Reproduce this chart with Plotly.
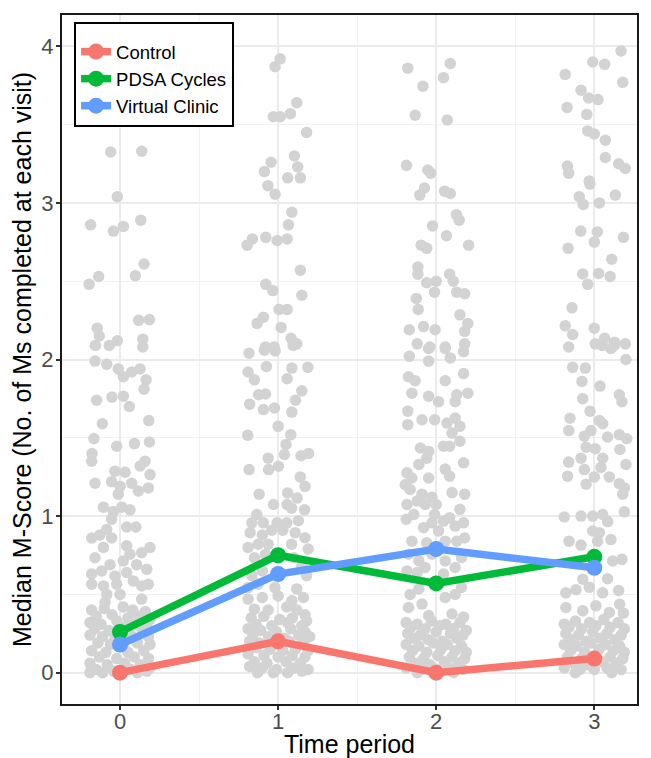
import plotly.graph_objects as go

# ---------------- data ----------------
periods = [0, 1, 2, 3]
series_names = ["Control", "PDSA Cycles", "Virtual Clinic"]
control_median = [0.0, 0.20, 0.0, 0.09]
pdsa_median = [0.26, 0.75, 0.57, 0.74]
virtual_median = [0.18, 0.63, 0.79, 0.67]
series_colors = ["#F8766D", "#00BA38", "#619CFF"]

# individual (jittered) scores, period 0
p0_jitter = [-0.059, 0.137, -0.017, -0.186, -0.042, 0.021, 0.131, 0.152, 0.097, -0.135, -0.196, -0.144,
             0.118, 0.186, -0.131, -0.156, -0.068, -0.017, 0.144, 0.144, -0.158, -0.084, -0.011, 0.021,
             0.074, 0.127, 0.165, 0.152, -0.148, -0.051, 0.021, 0.059, -0.112, 0.182, -0.165, -0.021,
             0.091, 0.186, -0.177, -0.179, 0.158, 0.127, -0.032, 0.032, 0.19, -0.158, -0.053, 0.0,
             0.074, 0.116, 0.179, -0.011, -0.105, -0.042, 0.011, 0.063, -0.053, 0.042, 0.10, -0.084,
             -0.179, -0.127, -0.053, -0.105, 0.042, 0.19, 0.137, 0.063, -0.158, -0.063, 0.021, 0.105,
             0.169, -0.179, -0.116, -0.032, 0.042, -0.179, -0.105, -0.021, 0.084, 0.137, 0.179, -0.084,
             0.0, 0.137, -0.095,
             -0.18, -0.10, 0.02, 0.08, 0.16, -0.15, -0.05, 0.05, 0.12, 0.19, -0.19, -0.12, -0.02, 0.10,
             0.17, -0.16, -0.07, 0.03, 0.14, -0.19, -0.11, -0.03, 0.07, 0.18, -0.14, -0.06, 0.02, 0.11,
             0.19, -0.18, -0.09, 0.05, 0.15, -0.13, -0.02, 0.09, 0.18, -0.19, -0.08, 0.03, 0.13, -0.15,
             -0.04, 0.07, 0.17, -0.11, 0.0, 0.11, -0.19, 0.19]
p0_score = [3.325, 3.33, 3.04, 2.86, 2.82, 2.85, 2.89, 2.61, 2.535, 2.53, 2.48, 2.20,
            2.25, 2.255, 2.15, 2.09, 2.09, 2.12, 2.13, 2.08, 1.99, 1.97, 1.94, 1.89,
            1.92, 1.94, 1.87, 1.81, 1.74, 1.76, 1.765, 1.70, 1.59, 1.61, 1.495, 1.446,
            1.463, 1.473, 1.40, 1.35, 1.35, 1.32, 1.287, 1.28, 1.265, 1.21, 1.22, 1.19,
            1.21, 1.16, 1.18, 1.14, 1.057, 1.03, 1.057, 1.04, 0.98, 0.93, 0.93, 0.915,
            0.86, 0.88, 0.86, 0.80, 0.81, 0.80, 0.766, 0.756, 0.734, 0.69, 0.713, 0.69,
            0.66, 0.63, 0.65, 0.618, 0.64, 0.565, 0.554, 0.565, 0.586, 0.554, 0.565, 0.50,
            0.50, 0.47, 0.448,
            0.40, 0.41, 0.42, 0.40, 0.39, 0.36, 0.37, 0.35, 0.36, 0.34, 0.32, 0.31, 0.33, 0.31,
            0.30, 0.28, 0.27, 0.29, 0.27, 0.24, 0.23, 0.22, 0.24, 0.23, 0.19, 0.18, 0.17, 0.19,
            0.18, 0.14, 0.13, 0.13, 0.14, 0.10, 0.09, 0.10, 0.09, 0.06, 0.05, 0.06, 0.05, 0.02,
            0.01, 0.02, 0.01, 0.0, 0.0, 0.0, 0.0, 0.03]

# period 1
p1_jitter = [0.013, -0.019, 0.118, 0.078, -0.03, 0.013, 0.18, 0.103, -0.044, 0.124, -0.087, 0.061,
             0.141, -0.065, -0.019, 0.087, 0.065, -0.163, -0.196, -0.078, -0.006, 0.057, 0.141, -0.078,
             -0.034, 0.15, 0.006, 0.057, -0.093, -0.133, 0.019, 0.082, 0.118, -0.08, -0.025,
             -0.184, -0.087, -0.019, 0.095, -0.19, -0.15, -0.074, 0.087, 0.188, 0.057, -0.123, -0.08,
             0.15, 0.11, -0.18, -0.093, -0.023, 0.087, 0.0, -0.192, 0.08, 0.05, 0.04, -0.063, 0.002,
             0.145, 0.193, -0.184, -0.06, 0.14, 0.17, 0.06, -0.12, 0.12, -0.029, 0.057, 0.167, 0.085,
             -0.135, -0.166, -0.093, -0.006, 0.055, 0.128, -0.177, -0.1, -0.04, 0.03, 0.108, 0.17,
             -0.19, -0.126, -0.063, 0.085, 0.19, -0.15, -0.08, 0.1, 0.15, 0.18, -0.166, -0.1, -0.19,
             -0.126, -0.02, 0.118, -0.19, -0.1, 0.0, 0.087, 0.16, -0.15, -0.063, 0.055, 0.118, 0.17,
             -0.17, -0.09, 0.01, 0.09, 0.18, -0.14, -0.04, 0.06, 0.15, -0.19, -0.11, -0.01, 0.08, 0.17,
             -0.16, -0.06, 0.04, 0.13, 0.2, -0.18, -0.12, -0.02, 0.07, 0.16, -0.14, -0.05, 0.03, 0.11,
             0.19, -0.19, -0.09, 0.0, 0.09, 0.17, -0.15, -0.07, 0.05, 0.14, -0.18, -0.1, -0.01, 0.1,
             0.19, -0.13, -0.03, 0.06, 0.15]
p1_score = [3.92, 3.87, 3.64, 3.57, 3.55, 3.55, 3.45, 3.30, 3.26, 3.23, 3.20, 3.16,
            3.16, 3.11, 3.055, 2.94, 2.86, 2.77, 2.73, 2.78, 2.76, 2.77, 2.57, 2.48,
            2.44, 2.41, 2.32, 2.32, 2.27, 2.23, 2.205, 2.136, 2.10, 2.08, 2.08,
            2.04, 2.06, 2.055, 2.09, 1.92, 1.87, 1.955, 1.945, 1.95, 1.877, 1.775, 1.78,
            1.80, 1.74, 1.715, 1.68, 1.69, 1.664, 1.573, 1.516, 1.52, 1.457, 1.393, 1.37, 1.318,
            1.385, 1.40, 1.297, 1.297, 1.25, 1.19, 1.148, 1.14, 1.115, 1.074, 1.074, 1.04, 1.05,
            1.01, 0.957, 0.957, 0.957, 0.957, 0.97, 0.894, 0.88, 0.91, 0.91, 0.894, 0.862,
            0.80, 0.82, 0.82, 0.82, 0.79, 0.734, 0.755, 0.734, 0.68, 0.62, 0.62, 0.65, 0.543,
            0.565, 0.543, 0.535, 0.47, 0.48, 0.49, 0.46, 0.48, 0.405, 0.40, 0.42, 0.40, 0.37,
            0.35, 0.36, 0.34, 0.35, 0.33, 0.31, 0.30, 0.32, 0.30, 0.28, 0.27, 0.26, 0.28, 0.26,
            0.24, 0.23, 0.22, 0.24, 0.23, 0.20, 0.19, 0.18, 0.20, 0.19, 0.16, 0.15, 0.14, 0.15,
            0.14, 0.12, 0.11, 0.10, 0.11, 0.10, 0.07, 0.06, 0.07, 0.06, 0.04, 0.03, 0.02, 0.03,
            0.02, 0.0, 0.0, 0.0, 0.01]

# period 2
p2_jitter = [-0.18, 0.089, 0.046, -0.084, -0.133, 0.07, -0.188, -0.053, -0.035, -0.074, -0.104, 0.053,
             0.089, 0.128, 0.145, -0.023, 0.065, -0.095, -0.06, 0.205, -0.116, -0.116, 0.085, -0.06,
             0.0, 0.108, -0.011, 0.13, 0.18, -0.126, -0.114, 0.15, 0.2, -0.17, -0.08, -0.007, 0.18,
             -0.12, -0.04, 0.057, 0.18,
             -0.048, 0.057, 0.173, -0.17, -0.048, 0.089, 0.173, -0.175, -0.133, 0.057, -0.154, -0.048,
             0.015, 0.13, 0.2, 0.12, -0.18, -0.18, -0.09, -0.01, 0.068, 0.12, 0.15, 0.1, 0.15, -0.1,
             -0.048, 0.046, 0.085, 0.173, -0.11, -0.06, -0.185, -0.154, -0.048, 0.057, 0.085, -0.196,
             -0.165, -0.09, -0.027, 0.1, 0.18, -0.185, -0.12, -0.07, 0.0, 0.15, -0.142, -0.01, 0.085,
             -0.19, -0.08, -0.027, 0.046, 0.12, 0.173, 0.015, -0.154, -0.06, 0.057, 0.13, 0.18, -0.175,
             -0.11, -0.027, 0.057, 0.16, 0.12, -0.185, -0.12, -0.07, 0.046, 0.16, -0.165, -0.11, 0.057,
             0.12, -0.175, -0.09, -0.048, 0.1, 0.173,
             -0.19, -0.12, -0.03, 0.06, 0.15, -0.16, -0.07, 0.02, 0.11, 0.19, -0.18, -0.1, 0.0, 0.09,
             0.17, -0.14, -0.05, 0.04, 0.13, -0.19, -0.11, -0.02, 0.07, 0.16, -0.15, -0.06, 0.03, 0.12,
             0.19, -0.17, -0.08, 0.01, 0.1, 0.18, -0.13, -0.04, 0.05, 0.14, -0.19, -0.09, 0.0, 0.08,
             0.17, -0.12, 0.11]
p2_score = [3.86, 3.89, 3.80, 3.745, 3.56, 3.53, 3.24, 3.21, 3.19, 3.095, 3.05, 3.075,
            3.06, 2.925, 2.89, 2.853, 2.79, 2.73, 2.71, 2.73, 2.59, 2.545, 2.545, 2.49,
            2.50, 2.50, 2.43, 2.43, 2.42, 2.39, 2.32, 2.285, 2.23, 2.19, 2.21, 2.19, 2.18,
            2.10, 2.08, 2.08, 2.10,
            2.07, 2.07, 2.05, 2.02, 1.99, 2.01, 1.91, 1.89, 1.865, 1.865, 1.785, 1.765,
            1.73, 1.775, 1.785, 1.73, 1.67, 1.584, 1.615, 1.615, 1.594, 1.626, 1.573, 1.53, 1.478, 1.435,
            1.413, 1.446, 1.446, 1.34, 1.33, 1.37, 1.276, 1.243, 1.243, 1.30, 1.255, 1.20,
            1.17, 1.14, 1.12, 1.15, 1.14, 1.074, 1.096, 1.074, 1.074, 1.043, 1.01, 1.01, 0.99,
            0.98, 0.926, 0.957, 0.968, 0.936, 0.957, 0.905, 0.84, 0.83, 0.84, 0.84, 0.86, 0.756,
            0.714, 0.756, 0.714, 0.735, 0.672, 0.65, 0.64, 0.672, 0.63, 0.545, 0.50, 0.535, 0.48,
            0.50, 0.416, 0.438, 0.365, 0.375, 0.355,
            0.32, 0.31, 0.33, 0.31, 0.32, 0.29, 0.28, 0.30, 0.28, 0.27, 0.25, 0.24, 0.26, 0.25,
            0.24, 0.22, 0.21, 0.20, 0.22, 0.18, 0.17, 0.19, 0.18, 0.17, 0.14, 0.13, 0.15, 0.14,
            0.13, 0.10, 0.09, 0.11, 0.10, 0.09, 0.06, 0.05, 0.07, 0.06, 0.03, 0.02, 0.02, 0.03,
            0.02, 0.0, 0.0]

# period 3
p3_jitter = [0.169, -0.01, 0.065, -0.184, 0.18, -0.084, -0.036, 0.023, -0.172, -0.048, -0.042, 0.0,
             0.07, 0.07, -0.17, -0.162, 0.154, 0.196, -0.032, -0.028, -0.095, -0.07, 0.032, 0.133,
             -0.086, 0.019, 0.0, 0.184, -0.166, 0.11, -0.073, 0.027, 0.1, -0.042, -0.141, -0.184,
             -0.137, 0.0, 0.065, 0.128, 0.196, -0.162, 0.006, 0.05, 0.126,
             0.105, 0.2, -0.137, -0.057, -0.078, 0.036, -0.073, 0.158, 0.175, -0.027, -0.154, 0.032,
             0.053, -0.162, -0.021, -0.063, 0.084, 0.158, 0.205, -0.052, 0.006, 0.162, -0.084, 0.053,
             -0.162, 0.2, -0.063, 0.042, -0.169, 0.0, 0.095, -0.052, 0.158, 0.19, 0.18, 0.19, -0.19,
             -0.084, -0.01, 0.053, 0.084, -0.01, 0.032, -0.16, -0.084, 0.021, 0.105, 0.116, 0.175,
             -0.073, 0.084, -0.18, -0.116, -0.032, 0.053, 0.154, 0.16, -0.18, -0.073, 0.01, 0.095,
             0.184, -0.19,
             -0.12, -0.03, 0.06, 0.15, -0.16, -0.08, 0.01, 0.1, 0.19, -0.18, -0.1, -0.01, 0.08,
             0.17, -0.14, -0.05, 0.04, 0.13, -0.19, -0.11, -0.02, 0.07, 0.16, -0.15, -0.06, 0.03, 0.12,
             0.19, -0.17, -0.08, 0.01, 0.1, 0.18, -0.13, -0.04, 0.05, 0.14, -0.19, -0.09, 0.0, 0.08,
             0.17, -0.12, 0.11]
p3_score = [3.97, 3.90, 3.885, 3.82, 3.77, 3.72, 3.67, 3.66, 3.61, 3.565, 3.46, 3.44,
            3.40, 3.29, 3.235, 3.19, 3.25, 3.22, 3.14, 3.12, 3.04, 2.99, 3.0, 3.05,
            2.82, 2.815, 2.75, 2.78, 2.71, 2.64, 2.546, 2.55, 2.53, 2.48, 2.33, 2.215,
            2.16, 2.20, 2.136, 2.11, 2.10, 2.08, 2.10, 2.09, 2.09,
            2.07, 2.0, 1.95, 1.945, 1.86, 1.83, 1.75, 1.775, 1.73, 1.67, 1.625, 1.61,
            1.59, 1.546, 1.546, 1.51, 1.505, 1.52, 1.494, 1.44, 1.43, 1.425, 1.37, 1.37,
            1.345, 1.33, 1.297, 1.31, 1.255, 1.25, 1.25, 1.203, 1.207, 1.18, 1.14, 1.027, 0.994,
            1.0, 1.0, 1.01, 0.965, 0.905, 0.894, 0.84, 0.815, 0.84, 0.85, 0.713, 0.724,
            0.597, 0.60, 0.51, 0.53, 0.545, 0.51, 0.525, 0.437, 0.416, 0.395, 0.427, 0.385,
            0.38, 0.31,
            0.33, 0.32, 0.34, 0.32, 0.29, 0.28, 0.30, 0.29, 0.28, 0.25, 0.24, 0.26, 0.25,
            0.24, 0.21, 0.20, 0.22, 0.21, 0.18, 0.17, 0.19, 0.18, 0.17, 0.14, 0.13, 0.15, 0.14,
            0.13, 0.10, 0.09, 0.11, 0.10, 0.09, 0.06, 0.05, 0.07, 0.06, 0.03, 0.02, 0.02, 0.03,
            0.02, 0.0, 0.0]

x_ticks = [0, 1, 2, 3]
y_ticks = [0, 1, 2, 3, 4]
x_title = "Time period"
y_title = "Median M-Score (No. of Ms completed at each visit)"

# ---------------- figure ----------------
point_x = []
point_y = []
for period, jit, sc in [(0, p0_jitter, p0_score), (1, p1_jitter, p1_score),
                        (2, p2_jitter, p2_score), (3, p3_jitter, p3_score)]:
    point_x += [period + j for j in jit]
    point_y += list(sc)

fig = go.Figure()
fig.add_trace(go.Scatter(
    x=point_x, y=point_y, mode="markers",
    marker=dict(color="#D3D3D3", size=11.5, line=dict(width=0)),
    showlegend=False, hoverinfo="skip"))

for name, vals, col in zip(series_names, [control_median, pdsa_median, virtual_median], series_colors):
    fig.add_trace(go.Scatter(
        x=periods, y=vals, mode="lines+markers", name=name,
        line=dict(color=col, width=7.5),
        marker=dict(color=col, size=16)))

# The page body has an 8px default margin, so the figure is 8px smaller and shifted.
font_family = "Liberation Sans, Arial, sans-serif"
fig.update_layout(
    width=643, height=750,
    margin=dict(l=54, r=14, t=7, b=54, autoexpand=False),
    plot_bgcolor="white", paper_bgcolor="white",
    font=dict(family=font_family, color="black"),
    legend=dict(x=0.021, y=0.9899, xanchor="left", yanchor="top",
                bgcolor="white", bordercolor="black", borderwidth=2,
                title=dict(text=" ", font=dict(size=7)),
                font=dict(size=18.5, color="black"), tracegroupgap=0),
    showlegend=True,
)
axis_common = dict(
    showline=True, mirror=True, linecolor="#1a1a1a", linewidth=2,
    ticks="outside", ticklen=4, tickwidth=1.5, tickcolor="#333333",
    gridcolor="#EBEBEB", gridwidth=1.6, zeroline=False, automargin=False,
    tickfont=dict(size=22, color="#4D4D4D", family=font_family),
)
fig.update_xaxes(range=[-0.367, 3.27], tickvals=x_ticks, ticktext=[str(t) for t in x_ticks],
                 ticklabelstandoff=-7,
                 title=dict(text=x_title, font=dict(size=25, color="black"), standoff=2),
                 minor=dict(tickvals=[0.5, 1.5, 2.5], showgrid=True, gridcolor="#F2F2F2",
                            gridwidth=1, ticks=""),
                 **axis_common)
fig.update_yaxes(range=[-0.2, 4.2], tickvals=y_ticks, ticktext=[str(t) for t in y_ticks],
                 ticklabelstandoff=-2,
                 title=dict(text=y_title, font=dict(size=25, color="black"), standoff=5),
                 minor=dict(tickvals=[0.5, 1.5, 2.5, 3.5], showgrid=True, gridcolor="#F2F2F2",
                            gridwidth=1, ticks=""),
                 **axis_common)

fig.write_html("out.html")
